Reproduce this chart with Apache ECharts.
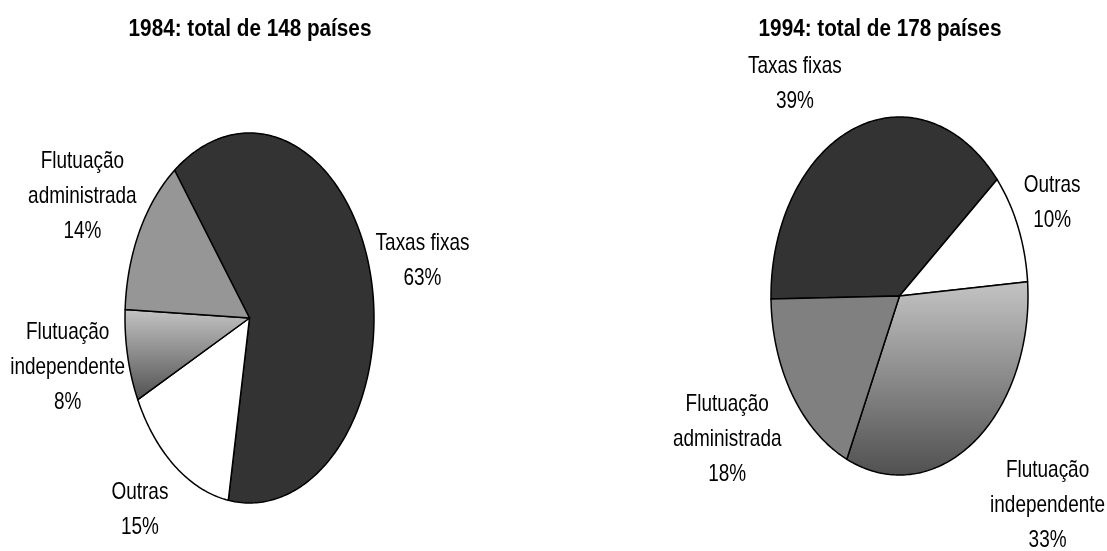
<!DOCTYPE html>
<html>
<head>
<meta charset="utf-8">
<script src="https://cdn.jsdelivr.net/npm/echarts@6/dist/echarts.min.js"></script>
<style>
  html, body { margin: 0; padding: 0; background: #fff; }
  #chart { width: 1107px; height: 551px; }
</style>
</head>
<body>
<div id="chart"></div>
<script>
// dados
const categories = ['Taxas fixas', 'Outras', 'Flutuação\nindependente', 'Flutuação\nadministrada'];
const values1984 = [63, 15, 8, 14];
const values1994 = [39, 10, 33, 18];
const titles = ['1984: total de 148 países', '1994: total de 178 países'];

const FONT = '"Liberation Sans", Arial, sans-serif';

function gradient() {
  return {
    type: 'linear', x: 0, y: 0, x2: 0, y2: 1,
    colorStops: [{ offset: 0, color: '#c4c4c4' }, { offset: 1, color: '#505050' }]
  };
}

// layout of each (elliptic) pie
const pies = [
  {
    values: values1984, cx: 249.5, cy: 318, rx: 124.5, ry: 185, start: -37,
    colors: ['#333333', '#ffffff', gradient(), '#969696'],
    nudge: [[52, -14], [-35, 44], [-60, 12], [-57, -35]],
    title: [250, 30]
  },
  {
    values: values1994, cx: 899.5, cy: 296, rx: 128.5, ry: 179, start: -91,
    colors: ['#333333', '#ffffff', gradient(), '#808080'],
    nudge: [[-59, -45], [34, -24], [74, 63], [-65, 45]],
    title: [880, 30]
  }
];

function makeRender(p) {
  const total = p.values.reduce((a, b) => a + b, 0);
  const starts = [];
  let acc = p.start;
  p.values.forEach(v => { starts.push(acc); acc += v / total * 360; });
  return function (params, api) {
    const i = params.dataIndex;
    const v = api.value(0);
    const a0 = starts[i];
    const a1 = a0 + v / total * 360;
    const pts = [[p.cx, p.cy]];
    const n = Math.max(2, Math.ceil(a1 - a0));
    for (let k = 0; k <= n; k++) {
      const a = (a0 + (a1 - a0) * k / n) * Math.PI / 180;
      pts.push([p.cx + p.rx * Math.sin(a), p.cy - p.ry * Math.cos(a)]);
    }
    const mid = (a0 + a1) / 2 * Math.PI / 180;
    const ex = p.cx + p.rx * Math.sin(mid);
    const ey = p.cy - p.ry * Math.cos(mid);
    return {
      type: 'group',
      children: [
        {
          type: 'polygon',
          shape: { points: pts },
          style: { fill: p.colors[i], stroke: '#000', lineWidth: 1.5, lineJoin: 'round' }
        },
        {
          type: 'text',
          x: ex + p.nudge[i][0],
          y: ey + p.nudge[i][1],
          scaleX: 0.79,
          style: {
            text: categories[i] + '\n' + v + '%',
            align: 'center', verticalAlign: 'middle',
            font: '24px ' + FONT, lineHeight: 35, fill: '#000'
          }
        }
      ]
    };
  };
}

const myChart = echarts.init(document.getElementById('chart'));
myChart.setOption({
  animation: false,
  graphic: pies.map((p, j) => ({
    type: 'text',
    x: p.title[0], y: p.title[1],
    scaleX: 0.9,
    style: {
      text: titles[j], align: 'center', verticalAlign: 'middle',
      font: 'bold 23px ' + FONT, fill: '#000'
    }
  })),
  series: pies.map(p => ({
    type: 'custom',
    coordinateSystem: 'none',
    renderItem: makeRender(p),
    data: p.values.map(v => [v])
  }))
});
</script>
</body>
</html>
